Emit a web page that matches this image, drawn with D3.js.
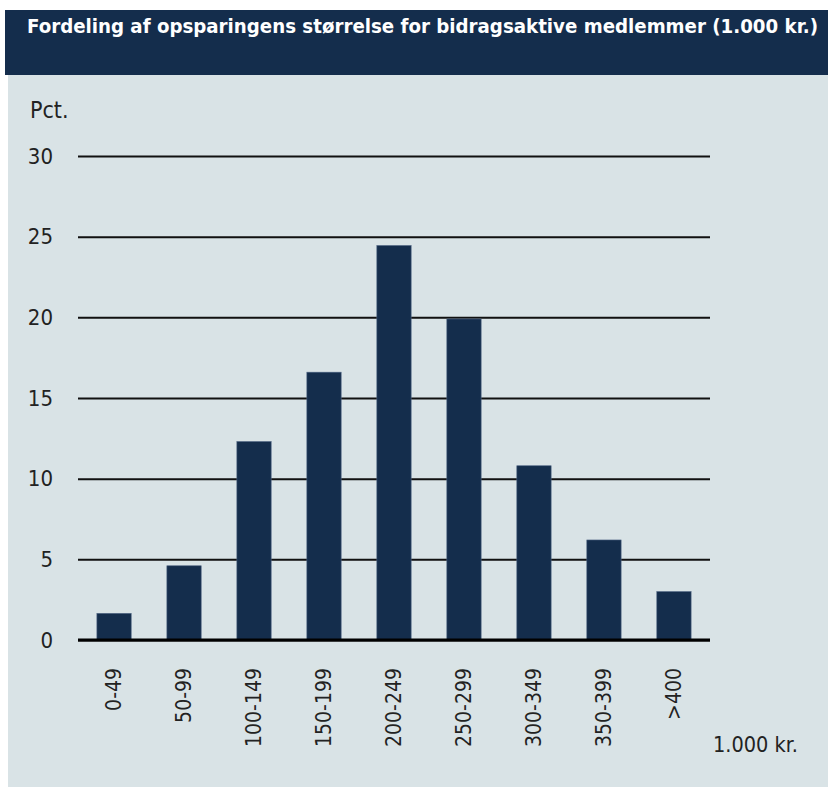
<!DOCTYPE html>
<html>
<head>
<meta charset="utf-8">
<script src="https://cdn.jsdelivr.net/npm/d3@7"></script>
<style>
  body { margin: 0; background: #fff; }
  svg text { font-family: "DejaVu Sans Condensed", "DejaVu Sans", sans-serif; }
</style>
</head>
<body>
<script>
  // intervals in 1.000 kr.
  var categories = ["0-49", "50-99", "100-149", "150-199", "200-249", "250-299", "300-349", "350-399", ">400"];
  // share of active members, pct.
  var pct = [1.65, 4.6, 12.3, 16.6, 24.45, 19.9, 10.8, 6.2, 3.0];
  var yTicks = [0, 5, 10, 15, 20, 25, 30];

  var W = 831, H = 787;
  var navy = "#142d4c";

  var svg = d3.select("body").append("svg")
      .attr("width", W)
      .attr("height", H);

  // panel background + header band
  svg.append("rect").attr("x", 8).attr("y", 75).attr("width", 820).attr("height", 712).attr("fill", "#d9e3e6");
  svg.append("rect").attr("x", 5).attr("y", 10).attr("width", 823).attr("height", 65).attr("fill", navy);

  svg.append("text")
      .attr("x", 27)
      .attr("y", 33)
      .attr("fill", "#fff")
      .attr("textLength", 791)
      .attr("lengthAdjust", "spacingAndGlyphs")
      .style("font-size", "19px")
      .style("font-weight", "bold")
      .text("Fordeling af opsparingens størrelse for bidragsaktive medlemmer (1.000 kr.)");

  var plotLeft = 78, plotRight = 710, plotTop = 156, plotBottom = 640;

  var x = d3.scaleBand()
      .domain(categories)
      .range([plotLeft, plotRight])
      .paddingInner(0.51)
      .paddingOuter(0.27);

  var y = d3.scaleLinear()
      .domain([0, 30])
      .range([plotBottom, plotTop]);

  // gridlines with labels
  var yAxis = svg.append("g")
      .attr("transform", "translate(" + plotLeft + ",0)")
      .call(d3.axisLeft(y).tickValues(yTicks).tickSize(-(plotRight - plotLeft)).tickPadding(25));
  yAxis.select(".domain").remove();
  yAxis.selectAll(".tick line").attr("stroke", "#111").attr("stroke-width", 2);
  yAxis.selectAll(".tick text")
      .attr("fill", "#222")
      .style("font-size", "22px")
      .style("font-family", "'DejaVu Sans Condensed', sans-serif");

  svg.append("text")
      .attr("x", 30)
      .attr("y", 118)
      .attr("fill", "#222")
      .style("font-size", "23px")
      .text("Pct.");

  // bars
  svg.append("g").selectAll("rect")
      .data(pct)
      .join("rect")
      .attr("x", (d, i) => x(categories[i]))
      .attr("width", x.bandwidth())
      .attr("y", d => y(d))
      .attr("height", d => y(0) - y(d))
      .attr("fill", navy)
      .attr("stroke", "#4d6382")
      .attr("stroke-width", 0.6);

  // baseline
  svg.append("line")
      .attr("x1", plotLeft).attr("x2", plotRight)
      .attr("y1", y(0)).attr("y2", y(0))
      .attr("stroke", "#000")
      .attr("stroke-width", 3);

  // category labels, rotated
  var xAxis = svg.append("g")
      .attr("transform", "translate(0," + plotBottom + ")")
      .call(d3.axisBottom(x).tickSize(0));
  xAxis.select(".domain").remove();
  xAxis.selectAll(".tick text")
      .attr("fill", "#222")
      .style("font-size", "21px")
      .style("font-family", "'DejaVu Sans Condensed', sans-serif")
      .style("text-anchor", "end")
      .attr("transform", "rotate(-90)")
      .attr("x", -28)
      .attr("y", 0)
      .attr("dy", "0.35em");

  svg.append("text")
      .attr("x", 713)
      .attr("y", 752)
      .attr("fill", "#222")
      .style("font-size", "21.5px")
      .text("1.000 kr.");
</script>
</body>
</html>
